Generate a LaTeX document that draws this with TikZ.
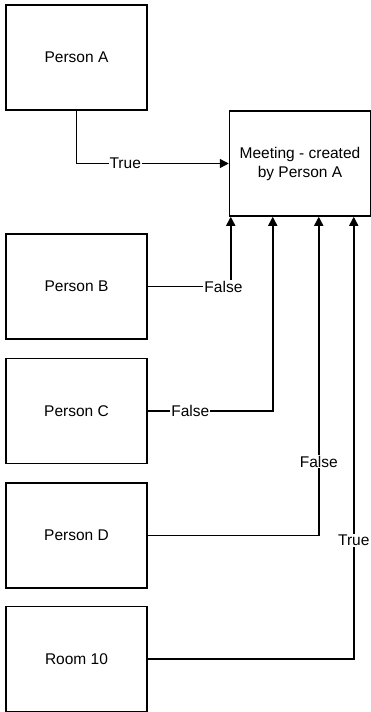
\documentclass[tikz,border=0pt]{standalone}
\usepackage{fontspec}
\setmainfont{Liberation Sans}
\usetikzlibrary{arrows.meta}
\begin{document}
\begin{tikzpicture}[x=1pt,y=-1pt,
  box/.style={draw,line width=1.5pt,minimum width=141pt,minimum height=105pt,inner sep=0pt,font=\fontsize{15.5}{19}\selectfont},
  lab/.style={fill=white,inner sep=1pt,font=\fontsize{15.5}{19}\selectfont},
  link/.style={line width=1.5pt,-{Triangle[length=9pt,width=9pt]}}]
 \useasboundingbox (0,0) rectangle (371,712);
%\draw[help lines] (0,0) grid (371,712);
  \node[box] (pa) at (76.5,57.5) {Person A};
  \node[box,align=center] (meet) at (300,163.5) {Meeting - created\\by Person A};
  \node[box] (pb) at (76.5,286.5) {Person B};
  \node[box] (pc) at (76.5,411) {Person C};
  \node[box] (pd) at (76.5,535.5) {Person D};
  \node[box] (room) at (76.5,659) {Room 10};
  \draw[link] (pa.south) |- node[lab,pos=0.66] {True} (meet.west);
  \draw[link] (pb.east) -| node[lab,pos=0.456] {False} ([xshift=2pt]meet.south west);
  \draw[link] (pc.east) -| node[lab,pos=0.17] {False} ([xshift=44pt]meet.south west);
  \draw[link] (pd.east) -| node[lab,pos=0.616] {False} ([xshift=90pt]meet.south west);
  \draw[link] (room.east) -| node[lab,pos=0.634] {True} ([xshift=125pt]meet.south west);
\end{tikzpicture}
\end{document}
